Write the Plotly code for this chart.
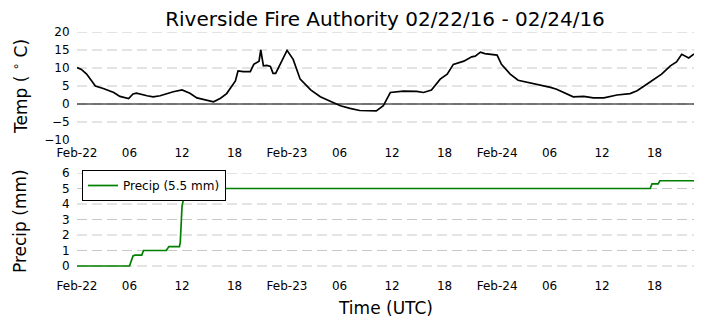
import pandas as pd
import plotly.graph_objects as go

# ---- data ----
start = pd.Timestamp("2016-02-22 00:00")
temp_hours = [0, 0.5, 1.1, 2.1, 3.0, 4.2, 4.9, 5.9, 6.4, 6.8, 8.0, 8.7, 9.5, 10.3, 11.0, 12.0,
              12.9, 13.7, 14.7, 15.6, 16.4, 17.1, 17.7, 18.1, 18.4, 19.0, 19.8, 20.2, 20.8,
              21.0, 21.3, 21.7, 22.1, 22.4, 22.7, 24.0, 24.7, 25.5, 26.7, 27.8, 29.0, 30.1,
              31.2, 32.3, 34.2, 35.0, 35.8, 37.3, 38.8, 39.6, 40.5, 41.5, 42.3, 43.0, 44.2,
              45.1, 45.5, 46.1, 46.6, 48.0, 48.5, 49.5, 50.4, 51.6, 52.5, 54.1, 54.8, 56.0,
              56.7, 57.9, 59.0, 60.2, 60.9, 61.7, 63.2, 64.0, 65.1, 65.9, 66.8, 67.8, 68.5,
              69.1, 69.9, 70.5]
temp_c = [10.1, 9.6, 8.3, 5.0, 4.3, 3.2, 2.1, 1.5, 2.8, 3.0, 2.3, 2.0, 2.3, 3.0, 3.4, 3.9,
          3.0, 1.7, 1.2, 0.6, 1.6, 2.9, 5.0, 6.4, 9.2, 9.0, 9.0, 11.0, 11.9,
          15.0, 10.6, 10.7, 10.4, 8.5, 8.5, 14.9, 12.4, 6.9, 3.9, 2.0, 0.7, -0.5,
          -1.2, -1.8, -1.9, -0.5, 3.2, 3.6, 3.5, 3.2, 3.9, 6.9, 8.3, 11.0, 11.9,
          13.1, 13.3, 14.4, 14.0, 13.6, 11.0, 8.3, 6.6, 6.0, 5.5, 4.6, 4.1, 2.8,
          2.0, 2.1, 1.7, 1.7, 2.1, 2.5, 2.9, 3.7, 5.5, 6.9, 8.3, 10.6, 11.7,
          13.8, 12.8, 13.9]
precip_hours = [0, 6.0, 6.4, 6.6, 7.4, 7.6, 10.2, 10.5, 11.7, 11.8, 12.0, 12.2, 12.4,
                65.5, 65.7, 66.4, 66.6, 70.5]
precip_mm = [0, 0, 0.65, 0.7, 0.7, 1.0, 1.0, 1.25, 1.25, 1.5, 3.85, 4.5, 5.0,
             5.0, 5.3, 5.3, 5.5, 5.5]
tick_hours = [0, 6, 12, 18, 24, 30, 36, 42, 48, 54, 60, 66]
tick_text = ["Feb-22", "06", "12", "18", "Feb-23", "06", "12", "18", "Feb-24", "06", "12", "18"]
temp_ticks = [-10, -5, 0, 5, 10, 15, 20]
precip_ticks = [0, 1, 2, 3, 4, 5, 6]

to_t = lambda hs: [start + pd.Timedelta(hours=h) for h in hs]

W, H = 705, 328
FONT = "DejaVu Sans"
x0, x1 = 77, 694

fig = go.Figure()
fig.add_trace(go.Scatter(x=to_t(temp_hours), y=temp_c, mode="lines",
                         line=dict(color="black", width=1.7), showlegend=False,
                         xaxis="x", yaxis="y"))
fig.add_trace(go.Scatter(x=to_t(precip_hours), y=precip_mm, mode="lines",
                         line=dict(color="green", width=1.7), name="Precip (5.5 mm)",
                         xaxis="x2", yaxis="y2"))

xcommon = dict(type="date", range=[start, start + pd.Timedelta(hours=70.5)],
               tickvals=to_t(tick_hours), ticktext=tick_text, showgrid=False,
               zeroline=False, showline=False, ticks="outside", ticklen=2,
               tickcolor="rgba(0,0,0,0)", tickfont=dict(family=FONT, size=12, color="black"),
               domain=[x0 / W, x1 / W], automargin=False)
gridc = "#c8c8c8"
ycommon = dict(showline=False, ticks="outside", ticklen=4, tickcolor="rgba(0,0,0,0)",
               tickfont=dict(family=FONT, size=12, color="black"), automargin=False)
fig.update_layout(
    width=W, height=H, margin=dict(l=0, r=0, t=0, b=0, autoexpand=False),
    paper_bgcolor="white", plot_bgcolor="white",
    font=dict(family=FONT, color="black"),
    title=dict(text="Riverside Fire Authority 02/22/16 - 02/24/16", x=385 / W, xanchor="center",
               y=1 - 19 / H, yanchor="middle", font=dict(family=FONT, size=20, color="black")),
    xaxis=dict(**xcommon, anchor="y"),
    xaxis2=dict(**xcommon, anchor="y2"),
    yaxis=dict(**ycommon, range=[-10, 20], tickvals=temp_ticks, domain=[1 - 140 / H, 1 - 32 / H],
               showgrid=False, zeroline=False, anchor="x"),
    yaxis2=dict(**ycommon, range=[-0.4, 6], tickvals=precip_ticks,
                domain=[1 - 272.2 / H, 1 - 173 / H], showgrid=False, zeroline=False, anchor="x2"),
    legend=dict(x=82 / W, y=1 - 170 / H, xanchor="left", yanchor="top",
                bgcolor="white", bordercolor="black", borderwidth=1,
                font=dict(family=FONT, size=12, color="black"),
                itemwidth=30, tracegroupgap=0),
    showlegend=True,
)
# dashed horizontal grid lines (none at the bottom -10 tick, as in the reference)
for v in temp_ticks[1:]:
    fig.add_shape(type="line", xref="x domain", yref="y", x0=0, x1=1, y0=v, y1=v,
                  line=dict(color=gridc, width=1, dash="10px,5px"), layer="below")
for v in precip_ticks:
    fig.add_shape(type="line", xref="x2 domain", yref="y2", x0=0, x1=1, y0=v, y1=v,
                  line=dict(color=gridc, width=1, dash="10px,5px"), layer="below")
# solid zero line on temperature panel
fig.add_shape(type="line", xref="x domain", yref="y", x0=0, x1=1, y0=0, y1=0,
              line=dict(color="black", width=1), layer="below")

ann = dict(xref="paper", yref="paper", showarrow=False, font=dict(family=FONT, size=17, color="black"))
fig.add_annotation(text="Temp ( <sup>∘</sup> C)", x=20 / W, y=1 - 87 / H, textangle=-90,
                   xanchor="center", yanchor="middle", **ann)
fig.add_annotation(text="Precip (mm)", x=20 / W, y=1 - 221 / H, textangle=-90,
                   xanchor="center", yanchor="middle", **ann)
fig.add_annotation(text="Time (UTC)", x=385 / W, y=1 - 308 / H,
                   xanchor="center", yanchor="middle", **ann)
fig.write_html("out.html")
